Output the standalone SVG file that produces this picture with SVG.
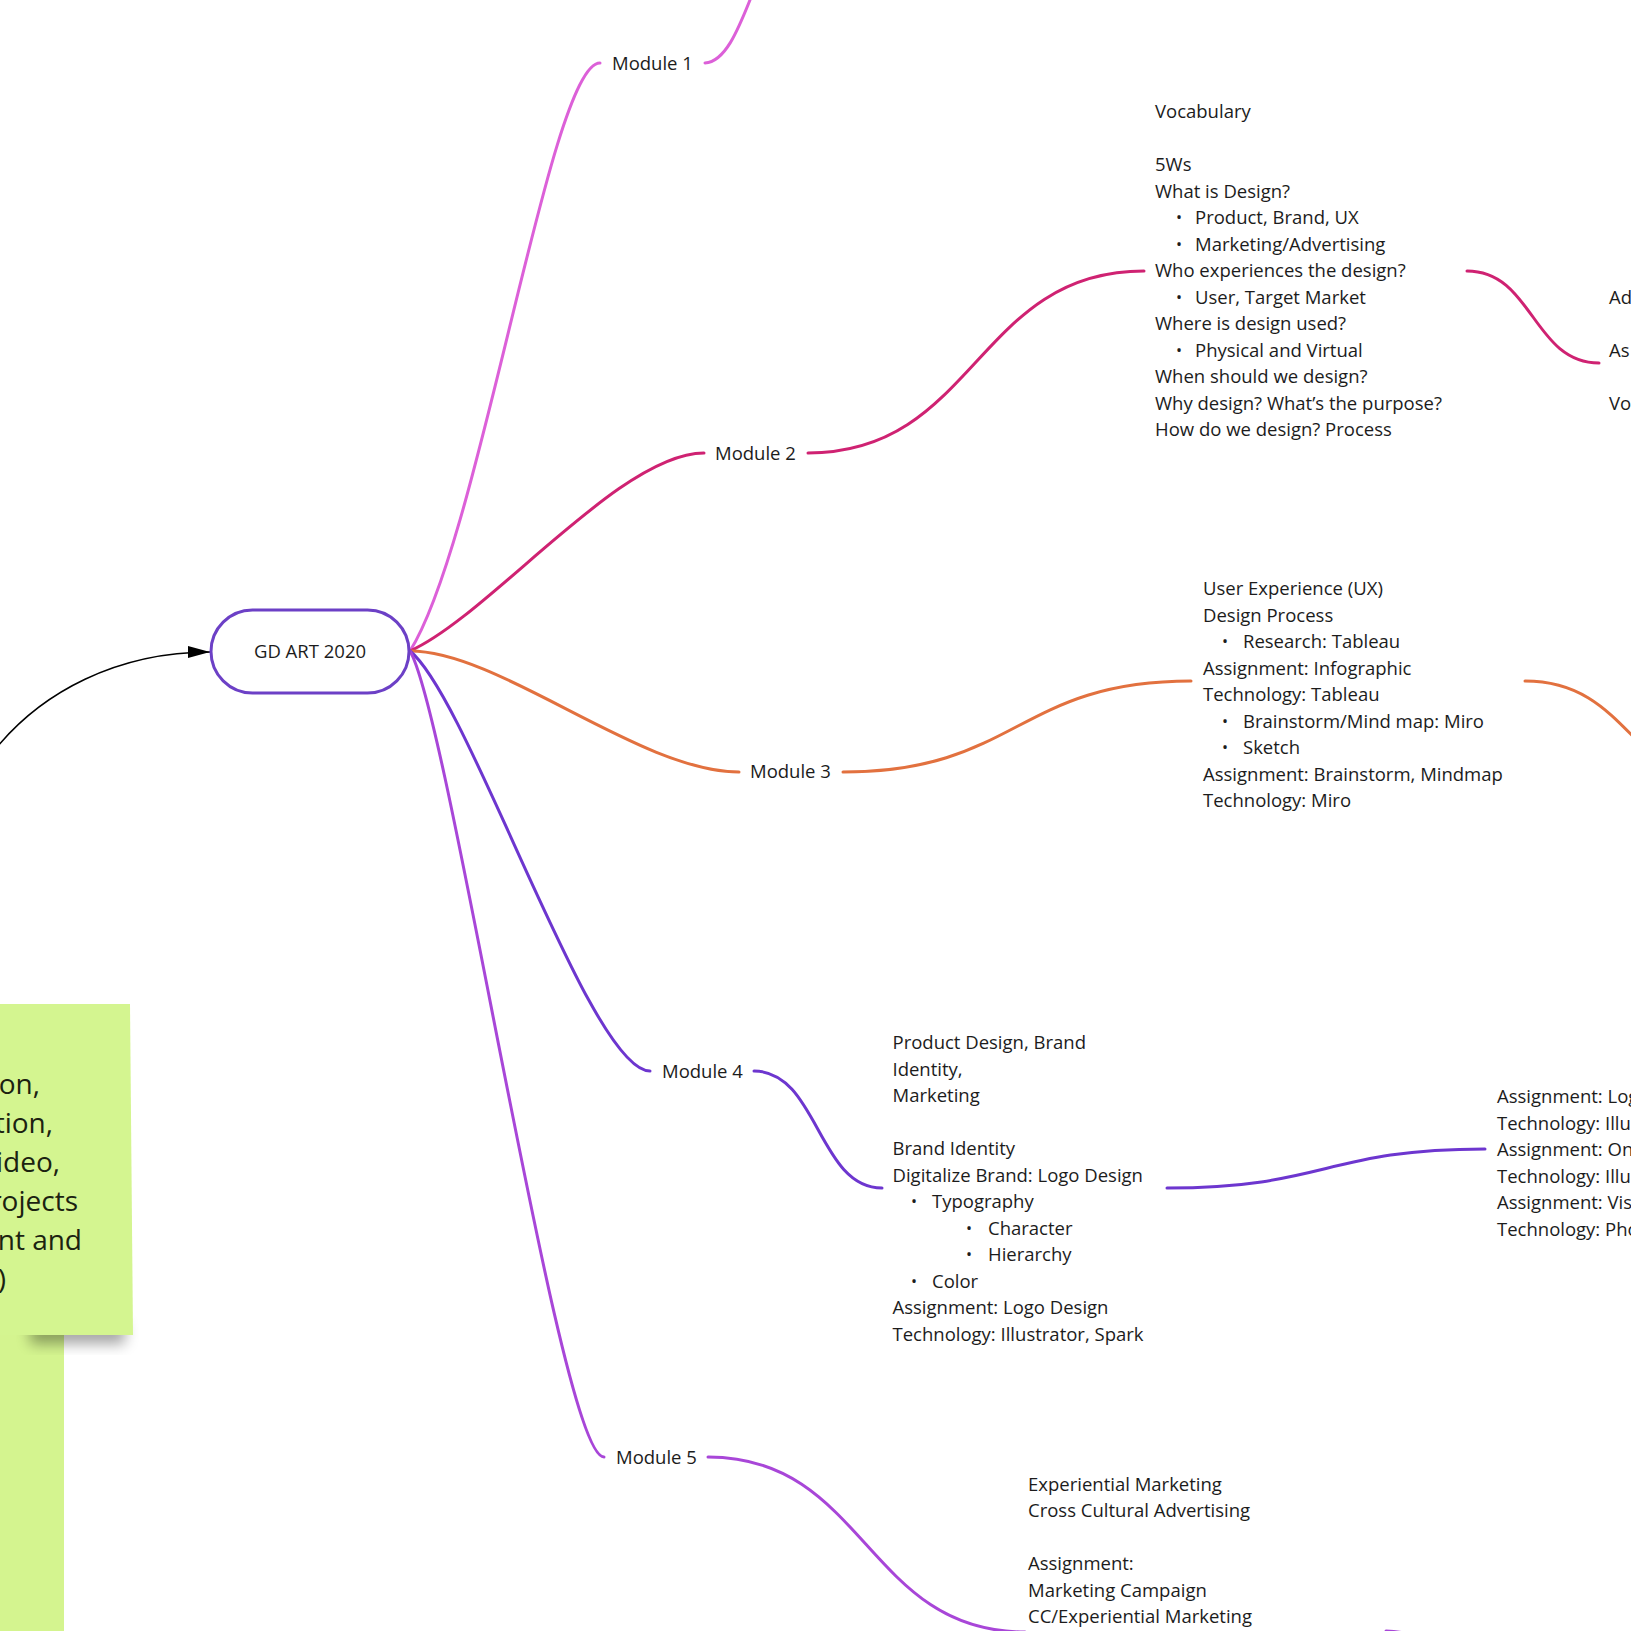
<svg xmlns="http://www.w3.org/2000/svg" width="1631" height="1631" viewBox="0 0 1631 1631">
<style>
  text { font-family: "Open Sans", "Liberation Sans", sans-serif; fill: #1c1c1c; }
  .t { font-size: 18.5px; }
  .b { font-size: 16px; }
  .note { font-size: 28px; fill: #1b2210; text-anchor: end; }
  .c { fill: none; stroke-width: 3; stroke-linecap: round; }
  .m1 { stroke: #dc60d8; }
  .m2 { stroke: #cf2272; }
  .m3 { stroke: #e2713f; }
  .m4 { stroke: #6d36cf; }
  .m5 { stroke: #a846d8; }
</style>
<defs>
  <marker id="arr" markerUnits="userSpaceOnUse" markerWidth="24" markerHeight="14" refX="22" refY="6" orient="auto">
    <path d="M0,0 L22,6 L0,12 Z" fill="#000"/>
  </marker>
  <filter id="blur" x="-50%" y="-50%" width="200%" height="200%">
    <feGaussianBlur stdDeviation="7"/>
  </filter>
</defs>
<rect width="1631" height="1631" fill="#ffffff"/>

<!-- sticky notes -->
<g id="sticky">
  <rect x="0" y="1300" width="64" height="331" fill="#d4f48f"/>
  <rect x="30" y="1322" width="95" height="22" fill="#000" opacity="0.35" filter="url(#blur)"/>
  <polygon points="0,1004 130,1004 133,1335 0,1335" fill="#d4f590"/>
  <text class="note" x="40" y="1094">on,</text>
  <text class="note" x="53" y="1133">tion,</text>
  <text class="note" x="60" y="1172">ideo,</text>
  <text class="note" x="78" y="1211">rojects</text>
  <text class="note" x="82" y="1250">nt and</text>
  <text class="note" x="6" y="1289">)</text>
</g>

<!-- connectors -->
<g id="connectors">
  <path d="M-10,756 C40,690 120,652 210,652" fill="none" stroke="#000" stroke-width="1.5" marker-end="url(#arr)"/>
  <path class="c m1" d="M410,651 C480,540 550,63 600,63"/>
  <path class="c m1" d="M705,63 C725,62 738,30 750,0"/>
  <path class="c m2" d="M410,651 C490,615 620,453 704,453"/>
  <path class="c m2" d="M808,453 C976,453 976,271 1144,271"/>
  <path class="c m2" d="M1467,271 C1533,271 1533,363 1599,363"/>
  <path class="c m3" d="M410,651 C500,651 640,772 739,772"/>
  <path class="c m3" d="M843,772 C1017,772 1017,681 1191,681"/>
  <path class="c m3" d="M1525,681 C1632,681 1632,790 1740,790"/>
  <path class="c m4" d="M410,651 C470,700 590,1071 650,1071"/>
  <path class="c m4" d="M754,1071 C818,1071 818,1188 882,1188"/>
  <path class="c m4" d="M1167,1188 C1326,1188 1326,1149 1485,1149"/>
  <path class="c m5" d="M410,651 C450,720 560,1457 604,1457"/>
  <path class="c m5" d="M708,1457 C866,1457 866,1632 1025,1632"/>
  <path class="c m5" d="M1386,1631 C1450,1631 1450,1700 1520,1700"/>
</g>

<!-- root -->
<g id="root">
  <rect x="211" y="610" width="198" height="83" rx="41.5" fill="#fff" stroke="#6c40c6" stroke-width="3"/>
  <text class="t" x="310" y="658" text-anchor="middle">GD ART 2020</text>
</g>

<g id="module1"><text class="t" x="612" y="70">Module 1</text></g>
<g id="module2"><text class="t" x="715" y="460">Module 2</text></g>
<g id="module3"><text class="t" x="750" y="778">Module 3</text></g>
<g id="module4"><text class="t" x="662" y="1078">Module 4</text></g>
<g id="module5"><text class="t" x="616" y="1464">Module 5</text></g>

<g id="module2-content">
  <text class="t" x="1155" y="118">Vocabulary</text>
  <text class="t" x="1155" y="171">5Ws</text>
  <text class="t" x="1155" y="197.5">What is Design?</text>
  <text class="b" x="1176" y="223">•</text><text class="t" x="1195" y="224">Product, Brand, UX</text>
  <text class="b" x="1176" y="249.5">•</text><text class="t" x="1195" y="250.5">Marketing/Advertising</text>
  <text class="t" x="1155" y="277">Who experiences the design?</text>
  <text class="b" x="1176" y="302.5">•</text><text class="t" x="1195" y="303.5">User, Target Market</text>
  <text class="t" x="1155" y="330">Where is design used?</text>
  <text class="b" x="1176" y="355.5">•</text><text class="t" x="1195" y="356.5">Physical and Virtual</text>
  <text class="t" x="1155" y="383">When should we design?</text>
  <text class="t" x="1155" y="409.5">Why design? What’s the purpose?</text>
  <text class="t" x="1155" y="436">How do we design? Process</text>
</g>

<g id="module2-next">
  <text class="t" x="1609" y="304">Ad</text>
  <text class="t" x="1609" y="357">As</text>
  <text class="t" x="1609" y="410">Vo</text>
</g>

<g id="module3-content">
  <text class="t" x="1203" y="595">User Experience (UX)</text>
  <text class="t" x="1203" y="621.5">Design Process</text>
  <text class="b" x="1222" y="647">•</text><text class="t" x="1243" y="648">Research: Tableau</text>
  <text class="t" x="1203" y="674.5">Assignment: Infographic</text>
  <text class="t" x="1203" y="701">Technology: Tableau</text>
  <text class="b" x="1222" y="726.5">•</text><text class="t" x="1243" y="727.5">Brainstorm/Mind map: Miro</text>
  <text class="b" x="1222" y="753">•</text><text class="t" x="1243" y="754">Sketch</text>
  <text class="t" x="1203" y="780.5">Assignment: Brainstorm, Mindmap</text>
  <text class="t" x="1203" y="807">Technology: Miro</text>
</g>

<g id="module4-content">
  <text class="t" x="892.5" y="1049">Product Design, Brand</text>
  <text class="t" x="892.5" y="1075.5">Identity,</text>
  <text class="t" x="892.5" y="1102">Marketing</text>
  <text class="t" x="892.5" y="1155">Brand Identity</text>
  <text class="t" x="892.5" y="1181.5">Digitalize Brand: Logo Design</text>
  <text class="b" x="911" y="1207">•</text><text class="t" x="932" y="1208">Typography</text>
  <text class="b" x="966" y="1233.5">•</text><text class="t" x="988" y="1234.5">Character</text>
  <text class="b" x="966" y="1260">•</text><text class="t" x="988" y="1261">Hierarchy</text>
  <text class="b" x="911" y="1286.5">•</text><text class="t" x="932" y="1287.5">Color</text>
  <text class="t" x="892.5" y="1314">Assignment: Logo Design</text>
  <text class="t" x="892.5" y="1340.5">Technology: Illustrator, Spark</text>
</g>

<g id="module4-next">
  <text class="t" x="1497" y="1103">Assignment: Log</text>
  <text class="t" x="1497" y="1129.5">Technology: Illu</text>
  <text class="t" x="1497" y="1156">Assignment: On</text>
  <text class="t" x="1497" y="1182.5">Technology: Illu</text>
  <text class="t" x="1497" y="1209">Assignment: Vis</text>
  <text class="t" x="1497" y="1235.5">Technology: Pho</text>
</g>

<g id="module5-content">
  <text class="t" x="1028" y="1491">Experiential Marketing</text>
  <text class="t" x="1028" y="1517">Cross Cultural Advertising</text>
  <text class="t" x="1028" y="1570">Assignment:</text>
  <text class="t" x="1028" y="1597">Marketing Campaign</text>
  <text class="t" x="1028" y="1623">CC/Experiential Marketing</text>
</g>
</svg>
